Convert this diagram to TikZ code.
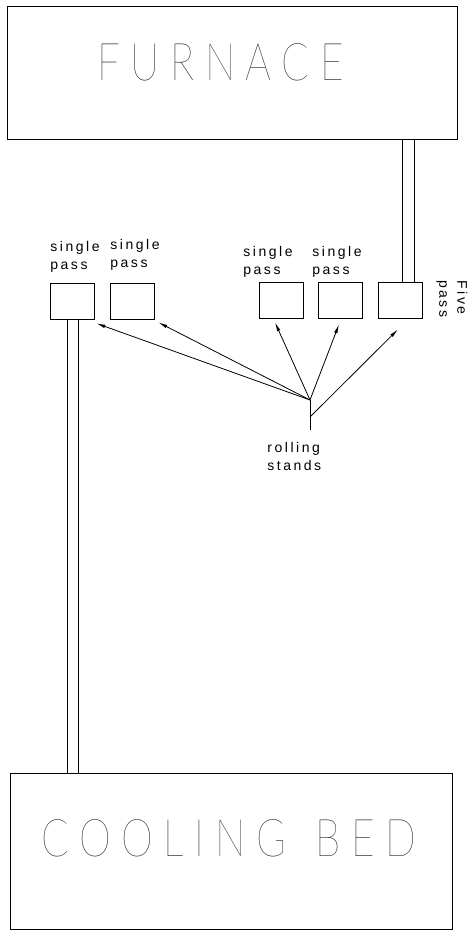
\documentclass[tikz,border=0pt]{standalone}
\usepackage{fontspec}
\setmainfont{Liberation Sans}
\newfontfamily\labelfont[LetterSpace=18]{Liberation Sans}
\newfontfamily\bigfont[LetterSpace=26]{Lato Thin}
\usetikzlibrary{arrows.meta}

\begin{document}
\begin{tikzpicture}[x=1pt, y=1pt, line width=0.8pt,
    plant/.style={draw, inner sep=0},
    stand/.style={draw, minimum width=44pt, minimum height=36pt, inner sep=0},
    note/.style={font=\labelfont\fontsize{14}{18}\selectfont, align=left, inner sep=0, anchor=north west},
    title/.style={font=\bigfont\fontsize{52}{52}\selectfont, inner sep=0, anchor=base west},
    feed/.style={-{Latex[length=9pt,width=3.5pt]}}]
    \useasboundingbox (0,0) rectangle (474,-933);

    % furnace and cooling bed
    \node[plant, minimum width=450pt, minimum height=133pt] (furnace) at (232,-72.5) {};
    \node[title] (furnacetxt) at (97,-80.5) {\scalebox{0.78}[1]{FURNACE}};
    \node[plant, minimum width=442pt, minimum height=156pt] (bed) at (231,-851) {};
    \node[title] (bedtxt) at (41,-856) {\scalebox{0.78}[1]{COOLING \hspace{10pt}BED}};

    % stands
    \node[stand] (s1) at (72,-301) {};
    \node[stand] (s2) at (132,-301) {};
    \node[stand] (s3) at (281,-300) {};
    \node[stand] (s4) at (340.5,-300) {};
    \node[stand] (s5) at (400,-300) {};

    \node[note] (n1) at (50,-241) {single\\pass};
    \node[note] (n2) at (110,-239) {single\\pass};
    \node[note] (n3) at (243,-246) {single\\pass};
    \node[note] (n4) at (312,-246) {single\\pass};
    \node[note, rotate=-90] (n5) at (468,-280) {Five\\pass};

    % pipes
    \draw ([xshift=2pt]s5.north) -- ([xshift=2pt]s5.north |- furnace.south);
    \draw ([xshift=14pt]s5.north) -- ([xshift=14pt]s5.north |- furnace.south);
    \draw ([xshift=-5pt]s1.south) -- ([xshift=-5pt]s1.south |- bed.north);
    \draw ([xshift=6pt]s1.south) -- ([xshift=6pt]s1.south |- bed.north);

    % rolling stands
    \coordinate (hub) at (310,-400);
    \coordinate (fork) at (310,-417);
    \coordinate (foot) at (310,-430);
    \node[note] (n6) at (267,-442) {rolling\\stands};
    \draw (hub) -- (foot);
    \draw[feed] (hub) -- ([shift={(2,-4)}]s1.south east);
    \draw[feed] (hub) -- ([shift={(4,-3)}]s2.south east);
    \draw[feed] (hub) -- ([shift={(-6,-4)}]s3.south);
    \draw[feed] (hub) -- ([shift={(-1.5,-6)}]s4.south);
    \draw[feed] (fork) -- ([shift={(-2,-11)}]s5.south);
\end{tikzpicture}
\end{document}
